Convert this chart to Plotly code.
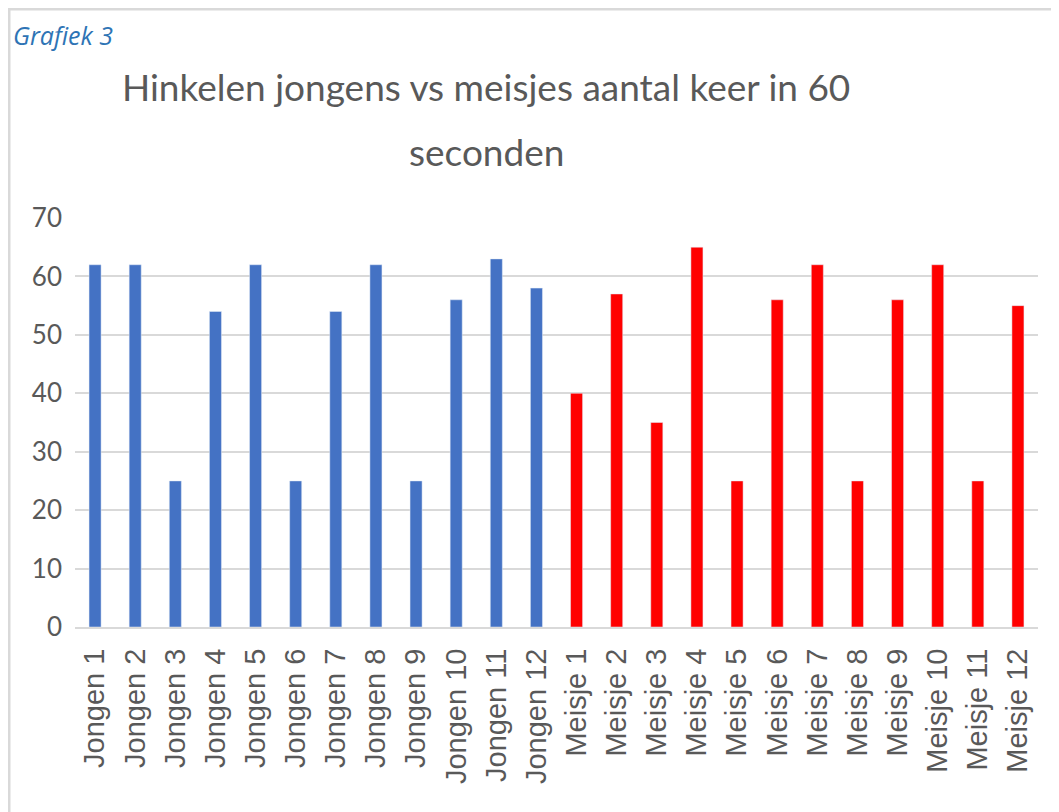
import plotly.graph_objects as go

jongens = [f"Jongen {i}" for i in range(1, 13)]
meisjes = [f"Meisje {i}" for i in range(1, 13)]
jongens_values = [62, 62, 25, 54, 62, 25, 54, 62, 25, 56, 63, 58]
meisjes_values = [40, 57, 35, 65, 25, 56, 62, 25, 56, 62, 25, 55]
y_ticks = [0, 10, 20, 30, 40, 50, 60, 70]

# page has an 8px body margin: figure origin sits at page (8, 8)
OFF = 8
W, H = 1059, 812
L, R, T, B = 75 - OFF, 29, 218 - OFF, 193
pw, ph = W - L - R, H - T - B

def px(x):  # page px -> paper
    return (x - OFF - L) / pw

def py(y):
    return (H - B - (y - OFF)) / ph

fig = go.Figure()
fig.add_trace(go.Bar(x=jongens, y=jongens_values, marker_color="#4472C4",
                     width=0.3, name="Jongens"))
fig.add_trace(go.Bar(x=meisjes, y=meisjes_values, marker_color="#FF0000",
                     width=0.3, name="Meisjes"))

title_font = dict(family="Lato", size=37, color="#595959")

fig.update_layout(
    width=W, height=H,
    margin=dict(l=L, r=R, t=T, b=B),
    paper_bgcolor="white", plot_bgcolor="white",
    barmode="overlay", showlegend=False,
    xaxis=dict(categoryorder="array", categoryarray=jongens + meisjes,
               tickangle=-90, showgrid=False, showline=True,
               linecolor="#d9d9d9", linewidth=2, ticks="", automargin=False,
               ticklabelstandoff=8,
               tickfont=dict(family="Liberation Sans", size=29, color="#595959")),
    yaxis=dict(range=[0, 70], tickvals=y_ticks, showgrid=True,
               gridcolor="#d9d9d9", gridwidth=2, zeroline=False,
               showline=False, ticks="", ticklabelstandoff=12, automargin=False,
               tickfont=dict(family="Lato", size=26, color="#595959")),
    annotations=[
        dict(text="Hinkelen jongens vs meisjes aantal keer in 60",
             xref="paper", yref="paper", x=px(486), y=py(62),
             xanchor="center", yanchor="top", showarrow=False,
             font=title_font),
        dict(text="seconden",
             xref="paper", yref="paper", x=px(486), y=py(127),
             xanchor="center", yanchor="top", showarrow=False,
             font=title_font),
        dict(text="<i>Grafiek 3</i>", xref="paper", yref="paper",
             x=px(11), y=py(16), xanchor="left", yanchor="top", showarrow=False,
             font=dict(family="Open Sans", size=25, color="#2E74B5")),
    ],
    shapes=[
        dict(type="line", xref="paper", yref="paper", x0=px(OFF), x1=px(W + 20),
             y0=py(OFF + 1), y1=py(OFF + 1), line=dict(color="#d9d9d9", width=3)),
        dict(type="line", xref="paper", yref="paper", x0=px(OFF + 1), x1=px(OFF + 1),
             y0=py(OFF), y1=py(H + 20), line=dict(color="#d9d9d9", width=3)),
    ],
)

fig.write_html("out.html")
